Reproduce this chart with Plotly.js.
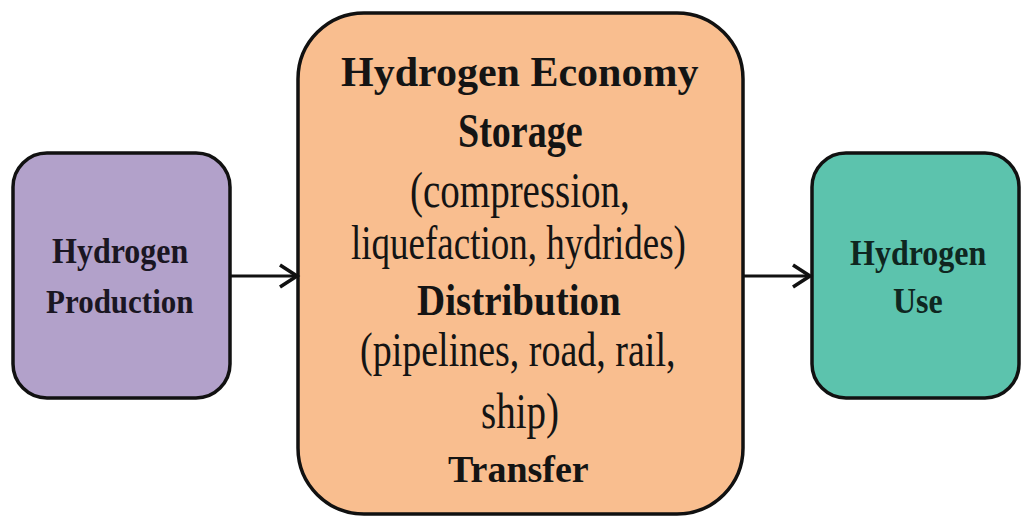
<!DOCTYPE html>
<html>
<head>
<meta charset="utf-8">
<script src="https://cdn.plot.ly/plotly-3.0.1.min.js"></script>
<style>
  html, body { margin: 0; padding: 0; background: #ffffff; }
  #chart { width: 1021px; height: 516px; }
</style>
</head>
<body>
<div id="chart"></div>
<script>
// ---- Content (text of the diagram) ----
const leftLines = ['Hydrogen', 'Production'];
const centerLines = [
  'Hydrogen Economy',
  'Storage',
  '(compression,',
  'liquefaction, hydrides)',
  'Distribution',
  '(pipelines, road, rail,',
  'ship)',
  'Transfer'
];
const rightLines = ['Hydrogen', 'Use'];

// ---- Geometry & styles (kept separate from content) ----
const boxes = [
  { x0: 13,  y0: 153, x1: 230,  y1: 398, r: 34, fill: '#b2a1ca' },
  { x0: 298, y0: 13,  x1: 743,  y1: 514, r: 66, fill: '#f9be8f' },
  { x0: 812, y0: 153, x1: 1019, y1: 398, r: 34, fill: '#5cc3ad' }
];
const arrows = [
  { x0: 230, x1: 297, y: 276 },
  { x0: 743, x1: 810, y: 276 }
];
const leftStyle = [
  { x: 120, y: 251, size: 32, bold: true, sy: 1.12 },
  { x: 120, y: 301, size: 31, bold: true, sy: 1.12 }
];
const centerStyle = [
  { x: 519, y: 72,  size: 42, bold: true,  sy: 1.0 },
  { x: 520, y: 130, size: 38, bold: true,  sy: 1.3 },
  { x: 520, y: 190, size: 39, bold: false, sy: 1.3 },
  { x: 518, y: 243, size: 37, bold: false, sy: 1.3 },
  { x: 519, y: 299, size: 39, bold: true,  sy: 1.15 },
  { x: 518, y: 349, size: 38, bold: false, sy: 1.3 },
  { x: 520, y: 411, size: 39, bold: false, sy: 1.3 },
  { x: 518, y: 469, size: 38, bold: true,  sy: 1.0 }
];
const rightStyle = [
  { x: 918, y: 253, size: 32, bold: true, sy: 1.12 },
  { x: 918, y: 301, size: 32, bold: true, sy: 1.12 }
];

function roundedRect(b) {
  const k = b.r * 0.5523;
  const { x0, y0, x1, y1, r } = b;
  return `M ${x0 + r},${y0} L ${x1 - r},${y0} ` +
    `C ${x1 - r + k},${y0} ${x1},${y0 + r - k} ${x1},${y0 + r} ` +
    `L ${x1},${y1 - r} ` +
    `C ${x1},${y1 - r + k} ${x1 - r + k},${y1} ${x1 - r},${y1} ` +
    `L ${x0 + r},${y1} ` +
    `C ${x0 + r - k},${y1} ${x0},${y1 - r + k} ${x0},${y1 - r} ` +
    `L ${x0},${y0 + r} ` +
    `C ${x0},${y0 + r - k} ${x0 + r - k},${y0} ${x0 + r},${y0} Z`;
}

const shapes = [];
boxes.forEach(b => {
  shapes.push({
    type: 'path', xref: 'x', yref: 'y', path: roundedRect(b),
    fillcolor: b.fill, line: { color: '#111111', width: 3.5 }, layer: 'above'
  });
});
arrows.forEach(a => {
  shapes.push({
    type: 'line', xref: 'x', yref: 'y', x0: a.x0, x1: a.x1 - 1, y0: a.y, y1: a.y,
    line: { color: '#111111', width: 3.2 }
  });
  shapes.push({
    type: 'path', xref: 'x', yref: 'y',
    path: `M ${a.x1 - 17},${a.y - 11} L ${a.x1},${a.y} L ${a.x1 - 17},${a.y + 11}`,
    line: { color: '#111111', width: 3.6 }
  });
});

const annotations = [];
const scales = [];
function addLines(lines, styles, color) {
  lines.forEach((t, i) => {
    const s = styles[i];
    annotations.push({
      xref: 'x', yref: 'y', x: s.x, y: s.y, text: t, showarrow: false,
      xanchor: 'center', yanchor: 'middle',
      font: { family: 'Liberation Serif, Times New Roman, serif', size: s.size,
              color: color, weight: s.bold ? 700 : 400 }
    });
    scales.push(s.sy);
  });
}
addLines(leftLines, leftStyle, '#1a1622');
addLines(centerLines, centerStyle, '#141414');
addLines(rightLines, rightStyle, '#0f2620');

const layout = {
  width: 1021, height: 516,
  margin: { l: 0, r: 0, t: 0, b: 0, pad: 0 },
  paper_bgcolor: '#ffffff', plot_bgcolor: '#ffffff',
  xaxis: { range: [0, 1021], visible: false, fixedrange: true },
  yaxis: { range: [516, 0], visible: false, fixedrange: true },
  showlegend: false,
  shapes: shapes,
  annotations: annotations
};

const gd = document.getElementById('chart');
Plotly.newPlot(gd, [], layout, { staticPlot: true, displayModeBar: false }).then(() => {
  scales.forEach((sy, i) => {
    const g = gd.querySelector(`.annotation[data-index="${i}"]`);
    if (!g) return;
    const txt = g.querySelector('text.annotation-text');
    if (!txt) return;
    txt.style.transformBox = 'fill-box';
    txt.style.transformOrigin = 'center';
    txt.style.transform = `scaleY(${sy})`;
  });
});
</script>
</body>
</html>
